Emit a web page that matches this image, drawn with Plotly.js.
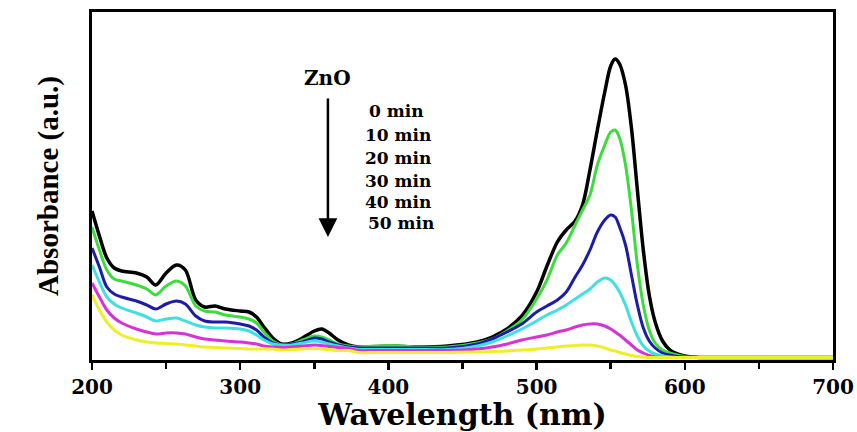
<!DOCTYPE html>
<html>
<head>
<meta charset="utf-8">
<script src="https://cdn.plot.ly/plotly-3.0.1.min.js"></script>
<style>
  html, body { margin: 0; padding: 0; background: #fff; }
  #chart { width: 857px; height: 432px; }
</style>
</head>
<body>
<div id="chart"></div>
<script>
// Wavelength grid (nm) shared by all spectra
const wavelength = [200,205,210,215,220,230,237,243,250,257,263,270,276,283,290,300,306,311,316,322,328,335,342,350,355,360,366,373,380,390,400,410,420,440,460,470,480,490,500,507,514,520,526,531,536,541,546,550,553,556,560,564,568,572,576,580,585,590,595,600,610,620,650,700];

// Absorbance (a.u.) after each irradiation time with ZnO
const abs0min  = [1.49,1.24,1.02,0.92,0.89,0.87,0.83,0.75,0.87,0.95,0.90,0.60,0.53,0.54,0.51,0.49,0.48,0.43,0.33,0.22,0.16,0.17,0.22,0.29,0.31,0.27,0.20,0.15,0.13,0.13,0.14,0.135,0.13,0.14,0.18,0.23,0.31,0.44,0.68,0.94,1.18,1.30,1.39,1.55,1.90,2.30,2.68,2.94,3.01,2.96,2.75,2.32,1.70,1.10,0.65,0.38,0.19,0.10,0.06,0.04,0.025,0.025,0.025,0.025];
const abs10min = [1.33,1.10,0.90,0.81,0.79,0.75,0.71,0.65,0.74,0.79,0.74,0.54,0.49,0.48,0.45,0.43,0.41,0.37,0.28,0.19,0.15,0.16,0.20,0.24,0.23,0.20,0.16,0.14,0.13,0.14,0.145,0.14,0.13,0.13,0.17,0.21,0.29,0.40,0.61,0.80,1.05,1.17,1.35,1.50,1.65,1.95,2.15,2.28,2.30,2.22,1.95,1.50,0.95,0.55,0.30,0.17,0.10,0.07,0.05,0.035,0.025,0.025,0.025,0.025];
const abs20min = [1.12,0.93,0.73,0.66,0.63,0.59,0.55,0.51,0.56,0.59,0.56,0.44,0.39,0.38,0.38,0.36,0.34,0.30,0.23,0.17,0.15,0.16,0.18,0.22,0.21,0.18,0.15,0.13,0.12,0.12,0.12,0.12,0.12,0.12,0.16,0.21,0.28,0.36,0.48,0.54,0.60,0.68,0.83,0.95,1.10,1.28,1.40,1.45,1.43,1.33,1.15,0.85,0.55,0.32,0.19,0.12,0.07,0.05,0.035,0.03,0.025,0.025,0.025,0.025];
const abs30min = [0.95,0.78,0.63,0.56,0.52,0.47,0.43,0.39,0.41,0.42,0.39,0.35,0.33,0.32,0.32,0.31,0.29,0.25,0.20,0.16,0.15,0.15,0.17,0.19,0.18,0.16,0.14,0.12,0.105,0.105,0.105,0.105,0.105,0.105,0.14,0.18,0.24,0.31,0.39,0.45,0.50,0.55,0.61,0.66,0.71,0.78,0.82,0.80,0.75,0.68,0.55,0.38,0.24,0.14,0.09,0.06,0.04,0.03,0.025,0.025,0.025,0.025,0.025,0.025];
const abs40min = [0.77,0.63,0.50,0.42,0.37,0.31,0.28,0.26,0.27,0.27,0.26,0.23,0.21,0.20,0.19,0.18,0.17,0.16,0.14,0.13,0.125,0.13,0.14,0.15,0.145,0.135,0.125,0.115,0.095,0.095,0.095,0.095,0.095,0.095,0.11,0.13,0.16,0.20,0.23,0.25,0.28,0.30,0.33,0.35,0.36,0.36,0.34,0.31,0.28,0.25,0.20,0.15,0.10,0.07,0.045,0.03,0.025,0.025,0.025,0.025,0.025,0.025,0.025,0.025];
const abs50min = [0.65,0.50,0.38,0.30,0.25,0.20,0.18,0.17,0.165,0.16,0.15,0.14,0.13,0.125,0.12,0.115,0.11,0.11,0.11,0.11,0.10,0.105,0.11,0.115,0.11,0.105,0.095,0.095,0.075,0.075,0.075,0.075,0.075,0.075,0.08,0.085,0.09,0.10,0.11,0.12,0.13,0.14,0.145,0.15,0.15,0.14,0.12,0.10,0.09,0.075,0.06,0.045,0.035,0.03,0.025,0.025,0.025,0.025,0.025,0.025,0.025,0.025,0.025,0.025];

const seriesNames = ['0 min','10 min','20 min','30 min','40 min','50 min'];
const seriesValues = [abs0min, abs10min, abs20min, abs30min, abs40min, abs50min];
const seriesColors = ['#000000','#3ddc3d','#1c1ca8','#40e0e0','#d633d6','#eeee2a'];
const seriesWidths = [3.5, 3, 3, 3, 3, 3];

const traces = seriesValues.map((vals, i) => ({
  type: 'scatter',
  mode: 'lines',
  name: seriesNames[i],
  x: wavelength,
  y: vals,
  line: { color: seriesColors[i], width: seriesWidths[i], shape: 'spline', smoothing: 0.9 },
  hoverinfo: 'skip'
}));

// Legend-style labels beside the arrow
const labelX = [385.6, 382.9, 382.9, 382.9, 382.9, 384.9];
const labelY = [2.49, 2.25, 2.02, 1.795, 1.585, 1.37];
const labelFont = { family: 'DejaVu Serif', size: 17, color: '#000', weight: 'bold' };

const annotations = seriesNames.map((t, i) => ({
  x: labelX[i], y: labelY[i], xref: 'x', yref: 'y',
  text: '<b>' + t + '</b>', showarrow: false,
  xanchor: 'left', yanchor: 'middle', font: labelFont
}));

annotations.push({
  x: 359.2, y: 2.82, xref: 'x', yref: 'y',
  text: '<b>ZnO</b>', showarrow: false,
  xanchor: 'center', yanchor: 'middle',
  font: { family: 'DejaVu Serif', size: 20, color: '#000' }
});

// Downward arrow marking increasing irradiation time
annotations.push({
  x: 359.2, y: 1.23, xref: 'x', yref: 'y',
  ax: 359.2, ay: 2.63, axref: 'x', ayref: 'y',
  text: '', showarrow: true,
  arrowhead: 2, arrowsize: 1.5, arrowwidth: 2.5, arrowcolor: '#000'
});

const layout = {
  width: 857, height: 432,
  margin: { l: 92, r: 24, t: 12, b: 72, pad: 0 },
  paper_bgcolor: '#ffffff',
  plot_bgcolor: '#ffffff',
  showlegend: false,
  xaxis: {
    range: [200, 700],
    tickvals: [200, 300, 400, 500, 600, 700],
    ticktext: ['<b>200</b>', '<b>300</b>', '<b>400</b>', '<b>500</b>', '<b>600</b>', '<b>700</b>'],
    ticks: 'outside', ticklen: 7, tickwidth: 2.5, tickcolor: '#000',
    minor: { tickvals: [250, 350, 450, 550, 650], ticks: 'outside', ticklen: 6, tickwidth: 2.5, tickcolor: '#000' },
    tickfont: { family: 'DejaVu Serif', size: 20, color: '#000' },
    showline: true, linecolor: '#000', linewidth: 3, mirror: true,
    showgrid: false, zeroline: false,
    title: { text: '<b>Wavelength (nm)</b>', font: { family: 'DejaVu Serif', size: 30, color: '#000' }, standoff: 16 }
  },
  yaxis: {
    range: [0, 3.48],
    showticklabels: false, ticks: '',
    showline: true, linecolor: '#000', linewidth: 3, mirror: true,
    showgrid: false, zeroline: false,
    title: { text: '<b>Absorbance (a.u.)</b>', font: { family: 'Liberation Serif', size: 29, color: '#000' }, standoff: 22 }
  },
  annotations: annotations
};

Plotly.newPlot('chart', traces, layout, { staticPlot: true, displayModeBar: false });
</script>
</body>
</html>
